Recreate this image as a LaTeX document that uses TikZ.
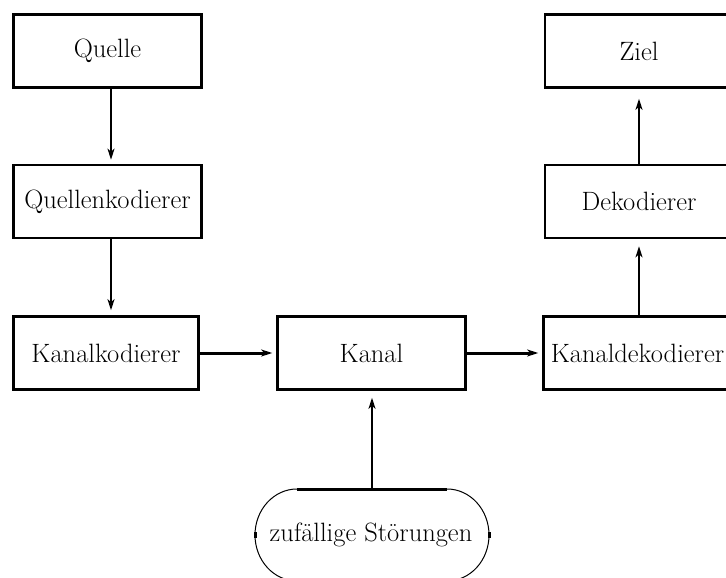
\documentclass[tikz,border=0pt]{standalone}
\usetikzlibrary{arrows.meta,calc}
\begin{document}
\begin{tikzpicture}[x=1pt,y=-1pt,
  txt/.style={font=\fontsize{26.5}{31}\selectfont},
  block/.style={txt,draw,line width=2.6pt,minimum width=188pt,minimum height=73pt,inner sep=0pt},
  tipstyle/.style={-{Stealth[length=11pt,width=7pt,inset=3pt]}},
  vflow/.style={tipstyle,line width=2pt},
  hflow/.style={tipstyle,line width=3pt},
  ovalthin/.style={line width=1pt},
  ovalthick/.style={line width=3pt}]
\clip (0,0) rectangle (726,578);

% blocks
\node[block] (q)  at (107.5,51)   {Quelle};
\node[block] (qk) at (107.5,201.5) {Quellenkodierer};
\node[block,minimum width=185pt] (kk) at (106,353) {Kanalkodierer};
\node[block] (ka) at (371.5,353)  {Kanal};
\node[block] (kd) at (637.5,353)  {Kanaldekodierer};
\node[block] (dk) at (639,201.5)  {Dekodierer};
\node[block] (zi) at (639,51)     {Ziel};

% noise source drawn as an oval
\node[txt] (nz) at (371,535) {zufällige Störungen};
\coordinate (nztop) at (372,489);
\draw[ovalthick] (297,489) -- (447,489);
\draw[ovalthick] (297,581) -- (447,581);
\draw[ovalthin] (297,489) .. controls (273.8,489) and (255,509.6) .. (255,535)
                          .. controls (255,560.4) and (273.8,581) .. (297,581);
\draw[ovalthin] (447,489) .. controls (470.2,489) and (489,509.6) .. (489,535)
                          .. controls (489,560.4) and (470.2,581) .. (447,581);
\draw[ovalthick] (255,532) -- (255,538);
\draw[ovalthick] (489,532) -- (489,538);

% connectors
\coordinate (l1) at ([xshift=3.5pt]q.south);
\coordinate (l2) at ([xshift=3.5pt]qk.south);
\draw[vflow,shorten >=4pt] (l1) -- (l1 |- qk.north);
\draw[vflow,shorten >=5pt] (l2) -- (l2 |- kk.north);
\draw[hflow,shorten >=4pt] (kk.east) -- (ka.west);
\draw[hflow,shorten >=4pt] (ka.east) -- (kd.west);
\draw[vflow,shorten >=7pt] (kd.north -| dk.south) -- (dk.south);
\draw[vflow,shorten >=10pt] (dk.north) -- (zi.south);
\draw[vflow,shorten >=7pt] (nztop) -- (nztop |- ka.south);
\end{tikzpicture}
\end{document}
